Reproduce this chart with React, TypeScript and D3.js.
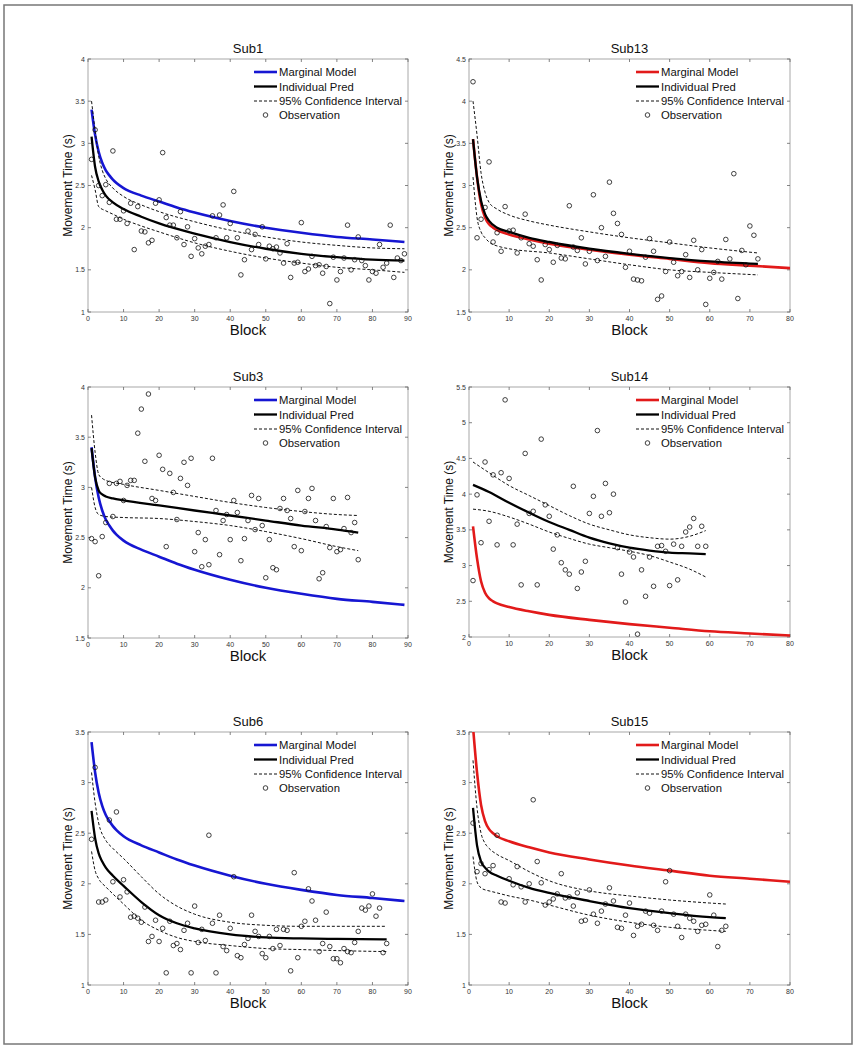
import React from "react";
import * as d3 from "d3";

// ---------- data ----------
const subjects = ["Sub1", "Sub13", "Sub3", "Sub14", "Sub6", "Sub15"];
const legendLabels = ["Marginal Model", "Individual Pred", "95% Confidence Interval", "Observation"];

// observations: value for block 1..n
const sub1Obs = [2.81,3.16,2.50,2.38,2.51,2.30,2.91,2.10,2.10,2.20,2.05,2.29,1.74,2.25,1.96,1.95,1.82,1.85,2.29,2.33,2.89,2.12,2.03,2.03,1.88,2.19,1.80,2.01,1.66,1.87,1.76,1.69,1.78,1.80,2.14,1.88,2.15,2.27,1.88,2.05,2.43,1.88,1.44,1.62,1.96,1.74,1.92,1.80,2.01,1.63,1.78,1.75,1.77,1.70,1.58,1.81,1.41,1.58,1.59,2.06,1.48,1.51,1.66,1.55,1.56,1.46,1.54,1.10,1.65,1.38,1.48,1.64,2.03,1.50,1.62,1.89,1.61,1.55,1.38,1.48,1.46,1.80,1.53,1.58,2.03,1.41,1.64,1.61,1.69];
const sub13Obs = [4.23,2.38,2.60,2.74,3.28,2.33,2.44,2.22,2.75,2.46,2.47,2.20,2.38,2.66,2.31,2.28,2.12,1.88,2.30,2.24,2.09,2.29,2.14,2.13,2.76,2.27,2.23,2.38,2.07,2.22,2.89,2.11,2.50,2.16,3.04,2.67,2.55,2.42,2.03,2.22,1.89,1.88,1.87,2.15,2.37,2.22,1.65,1.69,1.98,2.33,2.09,1.93,1.98,2.18,1.91,2.35,2.00,2.24,1.59,1.90,1.97,2.10,1.89,2.36,2.13,3.14,1.66,2.23,2.06,2.52,2.41,2.13];
const sub3Obs = [2.49,2.46,2.12,2.51,2.65,3.04,2.71,3.04,3.06,2.87,3.02,3.07,3.07,3.54,3.78,3.26,3.93,2.89,2.87,3.32,3.18,2.41,3.14,2.95,2.68,3.09,3.25,3.02,3.29,2.36,2.55,2.21,2.48,2.23,3.29,2.77,2.33,2.67,2.73,2.48,2.87,2.75,2.27,2.49,2.67,2.92,2.58,2.89,2.62,2.10,2.48,2.20,2.18,2.79,2.89,2.77,2.69,2.41,2.97,2.37,2.76,2.89,2.99,2.67,2.09,2.15,2.61,2.40,2.89,2.36,2.38,2.59,2.90,2.55,2.65,2.28];
const sub14Obs = [2.79,3.99,3.32,4.45,3.62,4.27,3.29,4.30,5.32,4.22,3.29,3.58,2.73,4.57,3.73,3.76,2.73,4.77,3.85,3.69,3.23,3.43,3.04,2.94,2.88,4.11,2.68,2.91,3.06,3.73,3.97,4.89,3.69,4.15,3.74,4.00,3.25,2.88,2.49,3.19,3.12,2.04,2.94,2.57,3.12,2.71,3.27,3.28,3.20,2.72,3.30,2.80,3.27,3.47,3.54,3.66,3.27,3.55,3.27];
const sub6Obs = [2.44,3.15,1.82,1.82,1.84,2.63,2.02,2.71,1.87,2.04,1.92,1.67,1.68,1.66,1.62,1.77,1.43,1.48,1.64,1.43,1.56,1.12,1.63,1.39,1.41,1.35,1.54,1.61,1.12,1.78,1.42,1.55,1.44,2.48,1.61,1.12,1.69,1.38,1.34,1.56,2.07,1.29,1.27,1.40,1.46,1.69,1.53,1.48,1.31,1.27,1.48,1.36,1.55,1.39,1.55,1.54,1.14,2.11,1.27,1.58,1.63,1.95,1.83,1.64,1.33,1.41,1.72,1.38,1.26,1.26,1.22,1.36,1.33,1.32,1.42,1.53,1.76,1.74,1.78,1.90,1.68,1.76,1.32,1.41];
const sub15Obs = [2.60,2.12,2.20,2.10,2.14,2.18,2.48,1.82,1.81,2.05,1.99,2.17,1.97,1.82,2.00,2.83,2.22,2.01,1.79,1.82,1.85,1.90,2.10,1.86,1.87,1.78,1.91,1.63,1.64,1.94,1.70,1.61,1.73,1.80,1.96,1.83,1.57,1.56,1.69,1.81,1.49,1.58,1.60,1.73,1.71,1.59,1.54,1.73,2.02,2.13,1.70,1.58,1.47,1.70,1.66,1.63,1.53,1.59,1.60,1.89,1.69,1.38,1.54,1.58];

// curves: [block, value]
const blueMarginal = [[1,3.4],[2,3.1],[3,2.9],[4,2.77],[5,2.68],[6,2.62],[7,2.57],[8,2.53],[10,2.47],[15,2.38],[20,2.31],[25,2.24],[30,2.18],[40,2.08],[50,2.0],[60,1.94],[70,1.89],[80,1.86],[89,1.83]];
const redMarginal = [[1,3.55],[2,3.1],[3,2.78],[4,2.62],[5,2.54],[6,2.5],[7,2.47],[10,2.42],[15,2.36],[20,2.31],[30,2.24],[40,2.18],[50,2.13],[60,2.08],[70,2.05],[80,2.02]];

const sub1Ind = [[1,3.08],[2,2.72],[3,2.55],[4,2.45],[5,2.38],[7,2.3],[10,2.22],[15,2.13],[20,2.05],[30,1.93],[40,1.83],[50,1.75],[60,1.69],[70,1.65],[80,1.62],[89,1.61]];
const sub1Up = [[1,3.5],[2,3.15],[3,2.85],[4,2.68],[5,2.58],[7,2.47],[10,2.37],[15,2.27],[20,2.19],[30,2.07],[40,1.97],[50,1.89],[60,1.83],[70,1.79],[80,1.76],[89,1.75]];
const sub1Lo = [[1,2.62],[2,2.45],[3,2.25],[5,2.2],[7,2.16],[10,2.1],[15,2.02],[20,1.95],[30,1.82],[40,1.72],[50,1.64],[60,1.58],[70,1.53],[80,1.5],[89,1.47]];

const sub13Ind = [[1,3.55],[2,3.1],[3,2.82],[4,2.66],[5,2.58],[7,2.5],[10,2.45],[15,2.38],[20,2.33],[30,2.25],[40,2.19],[50,2.14],[60,2.1],[72,2.07]];
const sub13Up = [[1,4.0],[2,3.6],[3,3.15],[4,2.92],[5,2.8],[7,2.72],[10,2.65],[15,2.58],[20,2.53],[30,2.45],[40,2.38],[50,2.32],[60,2.26],[72,2.2]];
const sub13Lo = [[1,3.1],[2,2.62],[3,2.45],[4,2.38],[5,2.33],[8,2.27],[10,2.25],[20,2.2],[30,2.13],[40,2.06],[50,2.0],[60,1.97],[72,1.94]];

const sub3Ind = [[1,3.39],[2,3.1],[3,2.97],[4,2.93],[5,2.91],[7,2.89],[10,2.87],[20,2.82],[30,2.77],[40,2.72],[50,2.67],[60,2.62],[70,2.58],[76,2.55]];
const sub3Up = [[1,3.72],[2,3.35],[3,3.13],[4,3.09],[5,3.07],[10,3.03],[20,2.97],[30,2.91],[40,2.85],[50,2.8],[60,2.76],[70,2.73],[76,2.72]];
const sub3Lo = [[1,3.0],[2,2.8],[3,2.73],[5,2.71],[10,2.7],[20,2.69],[30,2.66],[40,2.62],[50,2.56],[60,2.49],[70,2.41],[76,2.37]];

const sub14Ind = [[1,4.13],[5,4.03],[10,3.88],[15,3.74],[20,3.61],[25,3.5],[30,3.39],[35,3.31],[40,3.25],[45,3.21],[50,3.18],[55,3.17],[59,3.16]];
const sub14Up = [[1,4.45],[5,4.3],[10,4.12],[15,3.98],[20,3.84],[25,3.7],[30,3.58],[35,3.5],[40,3.43],[45,3.39],[50,3.37],[55,3.41],[59,3.49]];
const sub14Lo = [[1,3.79],[5,3.76],[10,3.68],[15,3.58],[20,3.47],[25,3.38],[30,3.3],[35,3.25],[40,3.2],[45,3.14],[50,3.05],[55,2.95],[59,2.84]];

const sub6Ind = [[1,2.72],[2,2.45],[3,2.3],[4,2.22],[5,2.16],[7,2.08],[10,1.98],[15,1.82],[20,1.69],[25,1.61],[30,1.56],[40,1.5],[50,1.47],[60,1.46],[70,1.455],[84,1.45]];
const sub6Up = [[1,3.1],[2,2.8],[3,2.6],[5,2.43],[7,2.35],[10,2.25],[15,2.07],[20,1.9],[25,1.78],[30,1.7],[40,1.62],[50,1.59],[60,1.58],[84,1.58]];
const sub6Lo = [[1,2.32],[2,2.13],[3,2.05],[5,1.97],[7,1.9],[10,1.8],[15,1.64],[20,1.54],[25,1.47],[30,1.43],[40,1.39],[50,1.36],[60,1.35],[70,1.34],[84,1.33]];

const sub15Ind = [[1,2.75],[2,2.38],[3,2.22],[4,2.16],[5,2.12],[7,2.08],[10,2.03],[15,1.96],[20,1.91],[30,1.83],[40,1.76],[50,1.71],[60,1.67],[64,1.66]];
const sub15Up = [[1,3.22],[2,2.75],[3,2.5],[4,2.4],[5,2.35],[7,2.29],[10,2.23],[15,2.12],[20,2.03],[30,1.93],[40,1.88],[50,1.84],[60,1.81],[64,1.8]];
const sub15Lo = [[1,2.27],[2,2.02],[3,1.96],[4,1.94],[5,1.93],[7,1.91],[10,1.88],[15,1.84],[20,1.79],[30,1.69],[40,1.62],[50,1.57],[60,1.54],[64,1.53]];

const xMaxes = [90, 80, 90, 80, 90, 80];
const yDomains = [[1, 4], [1.5, 4.5], [1.5, 4], [2, 5.5], [1, 3.5], [1, 3.5]];

// ---------- layout / style ----------
const BLUE = "#1616d2";
const RED = "#e21a1a";
const FONT = "'Liberation Sans', Arial, Helvetica, sans-serif";
const frames = [
  { left: 88, right: 408, top: 59, bottom: 312 },
  { left: 469, right: 790, top: 59, bottom: 312 },
  { left: 88, right: 408, top: 387, bottom: 638 },
  { left: 469, right: 790, top: 387, bottom: 637 },
  { left: 88, right: 408, top: 732, bottom: 985 },
  { left: 469, right: 790, top: 732, bottom: 985 },
];
const panelsData = [
  { obs: sub1Obs, marg: blueMarginal, mc: BLUE, ind: sub1Ind, up: sub1Up, lo: sub1Lo },
  { obs: sub13Obs, marg: redMarginal, mc: RED, ind: sub13Ind, up: sub13Up, lo: sub13Lo },
  { obs: sub3Obs, marg: blueMarginal, mc: BLUE, ind: sub3Ind, up: sub3Up, lo: sub3Lo },
  { obs: sub14Obs, marg: redMarginal, mc: RED, ind: sub14Ind, up: sub14Up, lo: sub14Lo },
  { obs: sub6Obs, marg: blueMarginal, mc: BLUE, ind: sub6Ind, up: sub6Up, lo: sub6Lo },
  { obs: sub15Obs, marg: redMarginal, mc: RED, ind: sub15Ind, up: sub15Up, lo: sub15Lo },
];

function Panel({ idx }: { idx: number }) {
  const f = frames[idx];
  const p = panelsData[idx];
  const xMax = xMaxes[idx];
  const [y0, y1] = yDomains[idx];
  const x = d3.scaleLinear().domain([0, xMax]).range([f.left, f.right]);
  const y = d3.scaleLinear().domain([y0, y1]).range([f.bottom, f.top]);
  const line = d3
    .line<number[]>()
    .x((d) => x(d[0]))
    .y((d) => y(d[1]))
    .curve(d3.curveMonotoneX);
  const xTicks = d3.range(0, xMax + 0.001, 10);
  const yTicks = d3.range(y0, y1 + 0.001, 0.5);
  const clipId = `clip${idx}`;
  const tl = 3;
  const cx = (f.left + f.right) / 2;
  const cy = (f.top + f.bottom) / 2;
  const lgX0 = f.right - 154;
  const lgX1 = f.right - 131;
  const lgT = f.right - 129;
  const rows = [13, 27.5, 42, 56].map((d) => f.top + d);
  return (
    <g>
      <defs>
        <clipPath id={clipId}>
          <rect x={f.left} y={f.top} width={f.right - f.left} height={f.bottom - f.top} />
        </clipPath>
      </defs>
      <rect x={f.left} y={f.top} width={f.right - f.left} height={f.bottom - f.top} fill="white" stroke="#a8a8a8" strokeWidth={1} />
      {xTicks.map((t) => (
        <g key={"x" + t}>
          <line x1={x(t)} x2={x(t)} y1={f.bottom} y2={f.bottom - tl} stroke="#666" strokeWidth={0.8} />
          <line x1={x(t)} x2={x(t)} y1={f.top} y2={f.top + tl} stroke="#666" strokeWidth={0.8} />
          <text x={x(t)} y={f.bottom + 9} fontSize={7} textAnchor="middle" fill="#333" fontFamily={FONT}>
            {t}
          </text>
        </g>
      ))}
      {yTicks.map((t) => (
        <g key={"y" + t}>
          <line x1={f.left} x2={f.left + tl} y1={y(t)} y2={y(t)} stroke="#666" strokeWidth={0.8} />
          <line x1={f.right} x2={f.right - tl} y1={y(t)} y2={y(t)} stroke="#666" strokeWidth={0.8} />
          <text x={f.left - 3} y={y(t) + 2.5} fontSize={7} textAnchor="end" fill="#333" fontFamily={FONT}>
            {d3.format("~g")(t)}
          </text>
        </g>
      ))}
      <g clipPath={`url(#${clipId})`}>
        <path d={line(p.marg) || ""} fill="none" stroke={p.mc} strokeWidth={2.6} />
        <path d={line(p.ind) || ""} fill="none" stroke="#000" strokeWidth={2.3} />
        <path d={line(p.up) || ""} fill="none" stroke="#111" strokeWidth={1} strokeDasharray="3,2" />
        <path d={line(p.lo) || ""} fill="none" stroke="#111" strokeWidth={1} strokeDasharray="3,2" />
        {p.obs.map((v, i) => (
          <circle key={i} cx={x(i + 1)} cy={y(v)} r={2.3} fill="none" stroke="#111" strokeWidth={0.8} />
        ))}
      </g>
      {/* legend */}
      <line x1={lgX0} x2={lgX1} y1={rows[0]} y2={rows[0]} stroke={p.mc} strokeWidth={2.6} />
      <line x1={lgX0} x2={lgX1} y1={rows[1]} y2={rows[1]} stroke="#000" strokeWidth={2.3} />
      <line x1={lgX0} x2={lgX1} y1={rows[2]} y2={rows[2]} stroke="#111" strokeWidth={1} strokeDasharray="3,2" />
      <circle cx={(lgX0 + lgX1) / 2} cy={rows[3]} r={2.3} fill="none" stroke="#111" strokeWidth={0.8} />
      {legendLabels.map((l, i) => (
        <text key={l} x={lgT} y={rows[i] + 4} fontSize={11.3} fill="#111" fontFamily={FONT}>
          {l}
        </text>
      ))}
      {/* titles */}
      <text x={cx} y={f.top - 6} fontSize={13} textAnchor="middle" fill="#111" fontFamily={FONT}>
        {subjects[idx]}
      </text>
      <text x={cx} y={f.bottom + 23} fontSize={15} textAnchor="middle" fill="#111" fontFamily={FONT}>
        Block
      </text>
      <text
        transform={`translate(${f.left - 16},${cy}) rotate(-90)`}
        fontSize={12}
        textAnchor="middle"
        fill="#111"
        fontFamily={FONT}
      >
        Movement Time (s)
      </text>
    </g>
  );
}

export default function App() {
  return (
    <svg
      width={857}
      height={1050}
      style={{ position: "absolute", left: 0, top: 0, background: "white" }}
    >
      <rect x={0} y={0} width={857} height={1050} fill="white" />
      <rect x={4} y={5} width={848} height={1039} fill="none" stroke="#777" strokeWidth={1.5} />
      {subjects.map((s, i) => (
        <Panel key={s} idx={i} />
      ))}
    </svg>
  );
}
